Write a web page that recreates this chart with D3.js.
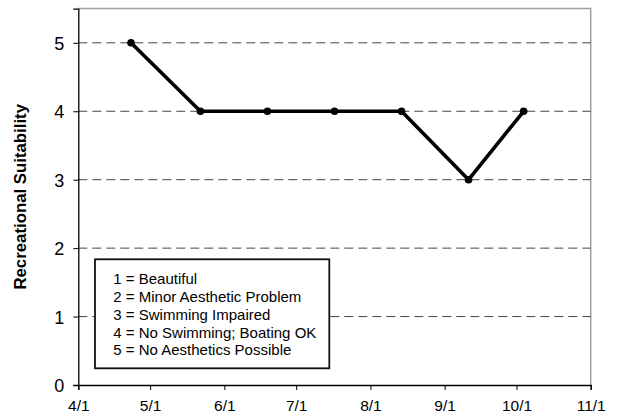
<!DOCTYPE html>
<html><head><meta charset="utf-8">
<script src="https://cdn.jsdelivr.net/npm/d3@7"></script>
<style>body{margin:0;background:#fff}svg{display:block}text{font-family:"Liberation Sans",Arial,sans-serif}</style>
</head><body><svg id="c" width="621" height="417"></svg>
<script>
const dates = ["2007-04-23","2007-05-22","2007-06-19","2007-07-17","2007-08-14","2007-09-11","2007-10-04"];
const values = [5,4,4,4,4,3,4];
const yTicks = [0,1,2,3,4,5];
const xTickLabels = ["4/1","5/1","6/1","7/1","8/1","9/1","10/1","11/1"];
const legendLines = ["1 = Beautiful","2 = Minor Aesthetic Problem","3 = Swimming Impaired","4 = No Swimming; Boating OK","5 = No Aesthetics Possible"];
const yTitle = "Recreational Suitability";

const svg = d3.select("#c");
const L=78.3, R=590.7, T=8.6, B=385;
const parse = d3.utcParse("%Y-%m-%d");
const x = d3.scaleUtc().domain([parse("2007-04-01"), parse("2007-11-01")]).range([L,R]);
const y = d3.scaleLinear().domain([0,5.5]).range([B,T]);
const xTicks = d3.utcMonth.range(parse("2007-04-01"), parse("2007-11-02"));

// frame (top/right gray)
svg.append("path").attr("d",`M${L},${T}H${R}V${B}`).attr("fill","none").attr("stroke","#a0a0a0").attr("stroke-width",1.5);
// grid
svg.append("g").selectAll("line").data(yTicks.filter(d=>d>0)).join("line")
  .attr("x1",L).attr("x2",R).attr("y1",d=>y(d)).attr("y2",d=>y(d))
  .attr("stroke","#444").attr("stroke-width",1).attr("stroke-dasharray","9,5");

// y axis
const ya = svg.append("g").attr("transform",`translate(${L},0)`)
  .call(d3.axisLeft(y).tickValues(yTicks).tickSize(5).tickPadding(9).tickFormat(d3.format("d")));
ya.select(".domain").attr("stroke","#000").attr("stroke-width",1.3);
ya.selectAll(".tick line").attr("stroke","#000");
ya.selectAll("text").attr("font-size",18).attr("fill","#000").attr("font-family","Liberation Sans, Arial, sans-serif").attr("dy","0.36em");

// x axis
const xa = svg.append("g").attr("transform",`translate(0,${B})`)
  .call(d3.axisBottom(x).tickValues(xTicks).tickSize(5).tickPadding(10).tickFormat((d,i)=>xTickLabels[i]));
xa.select(".domain").attr("stroke","#000").attr("stroke-width",1.3);
xa.selectAll(".tick line").attr("stroke","#000");
xa.selectAll("text").attr("font-size",15.5).attr("fill","#000").attr("font-family","Liberation Sans, Arial, sans-serif");

// line
const pts = dates.map((d,i)=>[parse(d), values[i]]);
svg.append("path").datum(pts).attr("fill","none").attr("stroke","#000").attr("stroke-width",3.6)
  .attr("stroke-linejoin","round")
  .attr("d", d3.line().x(d=>x(d[0])).y(d=>y(d[1])));
svg.append("g").selectAll("circle").data(pts).join("circle")
  .attr("cx",d=>x(d[0])).attr("cy",d=>y(d[1])).attr("r",3.8).attr("fill","#000");

// legend
svg.append("rect").attr("x",95).attr("y",259.3).attr("width",234.3).attr("height",109)
  .attr("fill","#fff").attr("stroke","#111").attr("stroke-width",1.8);
svg.append("g").selectAll("text").data(legendLines).join("text")
  .attr("x",113.3).attr("y",(d,i)=>284.3+i*17.75).attr("font-size",15).attr("fill","#000").text(d=>d);

// y title
svg.append("text").attr("transform",`translate(26.3,${(T+B)/2}) rotate(-90)`)
  .attr("text-anchor","middle").attr("font-size",16.8).attr("font-weight","bold").attr("fill","#000").text(yTitle);
</script></body></html>
